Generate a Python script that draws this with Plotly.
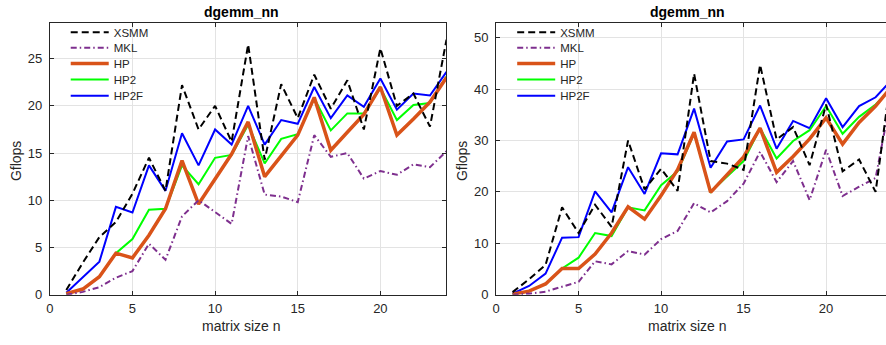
import plotly.graph_objects as go

n = list(range(1, 25))

# Left panel (Gflops)
L_XSMM = [0.5, 3.4, 6.1, 7.7, 10.7, 14.5, 11.0, 22.2, 17.5, 20.0, 16.2, 26.5, 14.3, 22.3, 18.7, 23.3, 19.7, 22.7, 17.5, 26.1, 20.0, 21.3, 17.8, 27.0]
L_MKL = [0.0, 0.3, 0.8, 1.8, 2.5, 5.4, 3.7, 8.3, 10.0, 8.7, 7.5, 16.8, 10.6, 10.4, 9.8, 16.9, 14.6, 15.0, 12.3, 13.1, 12.7, 13.8, 13.5, 15.2]
L_HP = [0.1, 0.6, 1.9, 4.4, 3.9, 6.3, 9.1, 14.2, 9.6, 12.2, 14.9, 18.3, 12.5, 14.7, 16.9, 20.9, 15.3, 17.2, 19.1, 22.0, 16.9, 18.6, 20.4, 23.0]
L_HP2 = [0.1, 0.6, 1.9, 4.4, 5.9, 9.0, 9.1, 13.7, 11.7, 14.5, 14.8, 18.0, 13.9, 16.5, 17.0, 20.8, 17.4, 19.2, 19.2, 21.9, 18.5, 20.1, 20.3, 23.1]
L_HP2F = [0.2, 1.8, 3.5, 9.3, 8.7, 13.7, 11.0, 17.1, 13.7, 17.5, 15.9, 20.0, 15.9, 18.5, 18.1, 22.0, 18.7, 21.1, 19.9, 22.9, 19.6, 21.3, 21.1, 23.6]

# Right panel (Gflops)
R_XSMM = [0.5, 3.0, 5.8, 17.0, 12.0, 17.5, 13.2, 30.0, 20.5, 24.5, 20.2, 43.0, 26.0, 25.5, 24.3, 44.7, 30.2, 32.6, 25.2, 37.0, 24.0, 26.3, 20.0, 44.0]
R_MKL = [0.0, 0.2, 0.6, 1.5, 2.5, 6.5, 5.9, 8.5, 7.8, 10.8, 12.4, 17.8, 16.0, 18.2, 21.6, 27.8, 21.9, 26.0, 18.4, 28.2, 19.2, 21.0, 22.7, 39.5]
R_HP = [0.1, 0.7, 2.1, 5.1, 5.1, 7.9, 12.0, 17.1, 14.7, 19.3, 24.3, 31.6, 19.9, 23.3, 26.8, 32.4, 23.8, 26.9, 30.3, 34.4, 29.3, 33.5, 36.7, 40.6]
R_HP2 = [0.1, 0.7, 2.1, 5.1, 7.2, 12.0, 11.4, 17.0, 16.4, 21.3, 24.0, 31.4, 20.0, 23.0, 26.0, 32.4, 26.5, 29.9, 32.0, 36.7, 31.3, 34.6, 37.0, 40.3]
R_HP2F = [0.2, 1.7, 4.1, 11.1, 11.2, 20.1, 16.0, 24.8, 19.6, 27.5, 27.3, 36.2, 24.7, 29.8, 30.2, 36.8, 28.4, 33.8, 32.4, 38.2, 32.6, 36.7, 38.4, 41.9]

names = ["XSMM", "MKL", "HP", "HP2", "HP2F"]
colors = {"XSMM": "#000000", "MKL": "#7E2F8E", "HP": "#D95319", "HP2": "#00FF00", "HP2F": "#0000FF"}
widths = {"XSMM": 2, "MKL": 2, "HP": 3.5, "HP2": 2, "HP2F": 2}
dashes = {"XSMM": "7px,4px", "MKL": "6px,3px,1.5px,3px", "HP": "solid", "HP2": "solid", "HP2F": "solid"}

left = {"XSMM": L_XSMM, "MKL": L_MKL, "HP": L_HP, "HP2": L_HP2, "HP2F": L_HP2F}
right = {"XSMM": R_XSMM, "MKL": R_MKL, "HP": R_HP, "HP2": R_HP2, "HP2F": R_HP2F}

W, H = 886, 345
TXT = "#262626"
GRID = "#e3e3e3"
FONT = "Liberation Sans, Arial, sans-serif"

fig = go.Figure()

legend_rows = [33, 49, 65, 81.5, 98]  # pixel centres of legend rows
legend_layouts = {}
draw_order = ["HP2F", "HP2", "HP", "MKL", "XSMM"]
for p, (data, xa, ya, x0) in enumerate([(left, "x", "y", 62), (right, "x2", "y2", 62 + 448.5)]):
    for nm in draw_order:
        k = p * 5 + names.index(nm) + 1
        lname = "legend" if k == 1 else f"legend{k}"
        fig.add_trace(go.Scatter(
            x=n, y=data[nm], mode="lines", name=nm, xaxis=xa, yaxis=ya, legend=lname,
            line=dict(color=colors[nm], width=widths[nm], dash=dashes[nm]),
        ))
        legend_layouts[lname] = dict(
            x=x0 / W, y=1 - legend_rows[names.index(nm)] / H, xanchor="left", yanchor="middle",
            bgcolor="rgba(0,0,0,0)", borderwidth=0, itemwidth=38,
            font=dict(family=FONT, size=11.5, color=TXT))

ytop = (H - 23.3) / H
ybot = (H - 301.7) / H

axis_common = dict(showline=True, linecolor=TXT, linewidth=1, ticks="inside", ticklen=4,
                   tickcolor=TXT, showgrid=True, gridcolor=GRID, gridwidth=1, zeroline=False,
                   tickfont=dict(family=FONT, size=13, color=TXT))

fig.update_layout(
    width=W, height=H, margin=dict(l=0, r=0, t=0, b=0),
    paper_bgcolor="white", plot_bgcolor="white",
    font=dict(family=FONT, color=TXT),
    xaxis=dict(domain=[46 / W, 444.5 / W], range=[0, 24], tickvals=[0, 5, 10, 15, 20],
               mirror="ticks", anchor="y", ticklabelstandoff=2, **axis_common),
    yaxis=dict(domain=[ybot, ytop], range=[0, 28.8], tickvals=[0, 5, 10, 15, 20, 25],
               mirror="ticks", anchor="x", ticklabelstandoff=4, **axis_common),
    xaxis2=dict(domain=[494.3 / W, 1.0], range=[0, 23.63], tickvals=[0, 5, 10, 15, 20],
                mirror="ticks", anchor="y2", ticklabelstandoff=2, **axis_common),
    yaxis2=dict(domain=[ybot, ytop], range=[0, 52.9], tickvals=[0, 10, 20, 30, 40, 50],
                mirror=False, anchor="x2", ticklabelstandoff=4, **axis_common),
    showlegend=True,
    **legend_layouts,
)

ann = []
for cx in (239, 687):
    ann.append(dict(text="<b>dgemm_nn</b>", x=cx / W, y=1 - 12 / H, xref="paper", yref="paper",
                    showarrow=False, font=dict(family=FONT, size=14, color="#000000"),
                    xanchor="center", yanchor="middle"))
    ann.append(dict(text="matrix size n", x=cx / W, y=1 - 334 / H, xref="paper", yref="paper",
                    showarrow=False, font=dict(family=FONT, size=14, color=TXT),
                    xanchor="center", yanchor="middle"))
for lx in (12, 460):
    ann.append(dict(text="Gflops", x=lx / W, y=1 - 165 / H, xref="paper", yref="paper",
                    showarrow=False, textangle=-90, font=dict(family=FONT, size=14, color=TXT),
                    xanchor="center", yanchor="middle"))
fig.update_layout(annotations=ann)

fig.write_html("out.html")
